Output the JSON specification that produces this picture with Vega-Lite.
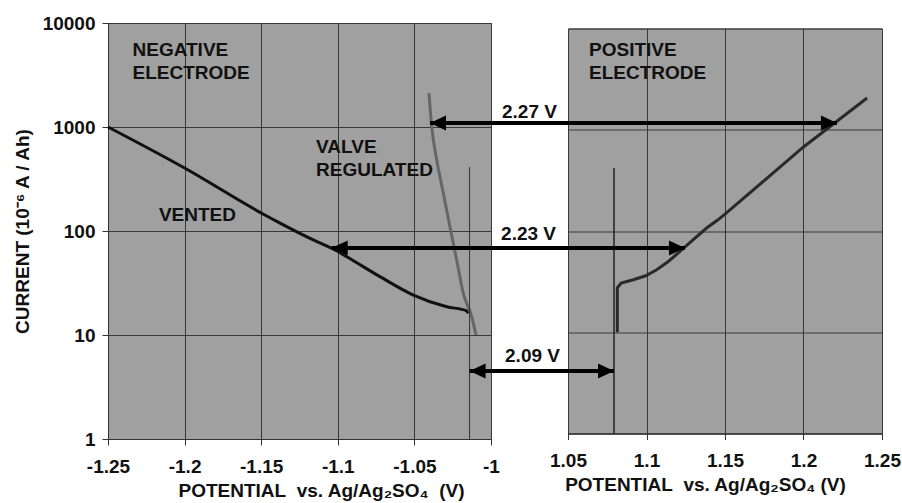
{
  "$schema": "https://vega.github.io/schema/vega-lite/v6.json",
  "background": "white",
  "padding": {"left": 12, "top": 13, "right": 0, "bottom": 0},
  "bounds": "flush",
  "center": true,
  "spacing": 77,
  "config": {
    "view": {"fill": "#a0a0a0", "stroke": "#444", "strokeWidth": 1},
    "axis": {
      "labelFont": "Liberation Sans", "labelFontSize": 19, "labelFontWeight": "bold", "labelColor": "#111",
      "titleFont": "Liberation Sans", "titleFontSize": 19, "titleFontWeight": "bold", "titleColor": "#111",
      "gridColor": "#383838", "gridOpacity": 1, "gridWidth": 1,
      "domainColor": "#333", "tickColor": "#333", "tickSize": 6
    },
    "text": {"font": "Liberation Sans", "fontSize": 19, "fontWeight": "bold", "color": "#111"}
  },
  "hconcat": [
    {
      "width": 383,
      "height": 416,
      "layer": [
        {
          "data": {"values": [
            {"x": -1.25, "y": 1000}, {"x": -1.2, "y": 403}, {"x": -1.15, "y": 149}, {"x": -1.1377, "y": 119},
            {"x": -1.116, "y": 82}, {"x": -1.104, "y": 68.2}, {"x": -1.0942, "y": 56.6}, {"x": -1.0725, "y": 36.4},
            {"x": -1.0507, "y": 24.2}, {"x": -1.0289, "y": 18.7}, {"x": -1.0159, "y": 17.1}, {"x": -1.0148, "y": 16.1}
          ]},
          "mark": {"type": "line", "color": "#111", "strokeWidth": 3, "interpolate": "monotone"},
          "encoding": {
            "x": {"field": "x", "type": "quantitative", "scale": {"domain": [-1.25, -1], "nice": false, "zero": false},
              "axis": {"values": [-1.25, -1.2, -1.15, -1.1, -1.05, -1], "labelExpr": "datum.value + ''",
                "title": "POTENTIAL\u00a0 vs. Ag/Ag₂SO₄\u00a0 (V)", "titleX": 213, "labelPadding": 12, "titlePadding": 5, "labelFlush": false}},
            "y": {"field": "y", "type": "quantitative", "scale": {"type": "log", "domain": [1, 10000], "nice": false},
              "axis": {"values": [1, 10, 100, 1000, 10000], "format": "d", "title": "CURRENT (10⁻⁶ A / Ah)",
                "labelPadding": 7, "titlePadding": 10, "labelFlush": false}}
          }
        },
        {
          "data": {"values": [
            {"x": -1.0405, "y": 2123}, {"x": -1.0387, "y": 1007}, {"x": -1.0354, "y": 482}, {"x": -1.0311, "y": 230},
            {"x": -1.0268, "y": 110}, {"x": -1.0224, "y": 52.6}, {"x": -1.0181, "y": 25.2}, {"x": -1.0126, "y": 15},
            {"x": -1.0098, "y": 10}
          ]},
          "mark": {"type": "line", "color": "#666", "strokeWidth": 3, "interpolate": "monotone"},
          "encoding": {
            "x": {"field": "x", "type": "quantitative", "scale": {"domain": [-1.25, -1], "nice": false, "zero": false}},
            "y": {"field": "y", "type": "quantitative", "scale": {"type": "log", "domain": [1, 10000], "nice": false}}
          }
        },
        {
          "data": {"values": [{"x": -1.014, "y": 412, "y2": 1}]},
          "mark": {"type": "rule", "color": "#333", "strokeWidth": 1},
          "encoding": {
            "x": {"field": "x", "type": "quantitative", "scale": {"domain": [-1.25, -1], "nice": false, "zero": false}},
            "y": {"field": "y", "type": "quantitative", "scale": {"type": "log", "domain": [1, 10000], "nice": false}},
            "y2": {"field": "y2"}
          }
        },
        {
          "data": {"values": [
            {"y": 1093, "x1": -1.0398, "x2": -0.948},
            {"y": 68.7, "x1": -1.104, "x2": -0.948},
            {"y": 4.51, "x1": -1.014, "x2": -0.948}
          ]},
          "mark": {"type": "rule", "color": "#000", "strokeWidth": 4},
          "encoding": {
            "x": {"field": "x1", "type": "quantitative", "scale": {"domain": [-1.25, -1], "nice": false, "zero": false}},
            "x2": {"field": "x2"},
            "y": {"field": "y", "type": "quantitative", "scale": {"type": "log", "domain": [1, 10000], "nice": false}}
          }
        },
        {
          "data": {"values": [
            {"x": -1.0398, "y": 1093}, {"x": -1.104, "y": 68.7}, {"x": -1.014, "y": 4.51}
          ]},
          "mark": {"type": "point", "shape": "M0,0L1,-0.47L1,0.47Z", "size": 1024, "filled": true, "color": "#000", "opacity": 1, "strokeWidth": 0},
          "encoding": {
            "x": {"field": "x", "type": "quantitative", "scale": {"domain": [-1.25, -1], "nice": false, "zero": false}},
            "y": {"field": "y", "type": "quantitative", "scale": {"type": "log", "domain": [1, 10000], "nice": false}}
          }
        },
        {
          "data": {"values": [
            {"x": -1.234, "y": 5500, "label": "NEGATIVE"},
            {"x": -1.234, "y": 3300, "label": "ELECTRODE"},
            {"x": -1.1142, "y": 646, "label": "VALVE"},
            {"x": -1.1142, "y": 386, "label": "REGULATED"}
          ]},
          "mark": {"type": "text", "align": "left", "baseline": "middle"},
          "encoding": {
            "x": {"field": "x", "type": "quantitative", "scale": {"domain": [-1.25, -1], "nice": false, "zero": false}},
            "y": {"field": "y", "type": "quantitative", "scale": {"type": "log", "domain": [1, 10000], "nice": false}},
            "text": {"field": "label"}
          }
        },
        {
          "data": {"values": [
            {"x": -1.1916, "y": 144, "label": "VENTED"},
            {"x": -0.9749, "y": 1403, "label": "2.27 V"},
            {"x": -0.9755, "y": 93.6, "label": "2.23 V"},
            {"x": -0.9729, "y": 6.3, "label": "2.09 V"}
          ]},
          "mark": {"type": "text", "align": "center", "baseline": "middle"},
          "encoding": {
            "x": {"field": "x", "type": "quantitative", "scale": {"domain": [-1.25, -1], "nice": false, "zero": false}},
            "y": {"field": "y", "type": "quantitative", "scale": {"type": "log", "domain": [1, 10000], "nice": false}},
            "text": {"field": "label"}
          }
        }
      ]
    },
    {
      "width": 314,
      "height": 405,
      "layer": [
        {
          "data": {"values": [
            {"x": 1.0814, "y": 10}, {"x": 1.0814, "y": 27.5}, {"x": 1.0839, "y": 30.6}, {"x": 1.0916, "y": 33},
            {"x": 1.0995, "y": 36.1}, {"x": 1.1065, "y": 41.4}, {"x": 1.1139, "y": 50}, {"x": 1.1213, "y": 62.8},
            {"x": 1.1298, "y": 82}, {"x": 1.1383, "y": 107}, {"x": 1.1455, "y": 129}, {"x": 1.15, "y": 147},
            {"x": 1.2, "y": 676}, {"x": 1.2405, "y": 2057}
          ]},
          "mark": {"type": "line", "color": "#2a2a2a", "strokeWidth": 3},
          "encoding": {
            "x": {"field": "x", "type": "quantitative", "scale": {"domain": [1.05, 1.25], "nice": false, "zero": false},
              "axis": {"values": [1.05, 1.1, 1.15, 1.2, 1.25], "labelExpr": "datum.value + ''",
                "title": "POTENTIAL\u00a0 vs. Ag/Ag₂SO₄ (V)", "titleX": 137, "labelPadding": 12, "titlePadding": 5, "labelFlush": false}},
            "y": {"field": "y", "type": "quantitative", "scale": {"type": "log", "domain": [1, 10000], "nice": false},
              "axis": {"values": [1, 10, 100, 1000, 10000], "labels": false, "ticks": false, "domain": false, "title": null}}
          }
        },
        {
          "data": {"values": [{"x": 1.0793, "y": 420, "y2": 1}]},
          "mark": {"type": "rule", "color": "#222", "strokeWidth": 1.5},
          "encoding": {
            "x": {"field": "x", "type": "quantitative", "scale": {"domain": [1.05, 1.25], "nice": false, "zero": false}},
            "y": {"field": "y", "type": "quantitative", "scale": {"type": "log", "domain": [1, 10000], "nice": false}},
            "y2": {"field": "y2"}
          }
        },
        {
          "data": {"values": [
            {"y": 1166, "x1": 1.047, "x2": 1.2213},
            {"y": 67.9, "x1": 1.047, "x2": 1.1245},
            {"y": 4.14, "x1": 1.047, "x2": 1.0793}
          ]},
          "mark": {"type": "rule", "color": "#000", "strokeWidth": 4},
          "encoding": {
            "x": {"field": "x1", "type": "quantitative", "scale": {"domain": [1.05, 1.25], "nice": false, "zero": false}},
            "x2": {"field": "x2"},
            "y": {"field": "y", "type": "quantitative", "scale": {"type": "log", "domain": [1, 10000], "nice": false}}
          }
        },
        {
          "data": {"values": [
            {"x": 1.2213, "y": 1166}, {"x": 1.1245, "y": 67.9}, {"x": 1.0793, "y": 4.14}
          ]},
          "mark": {"type": "point", "shape": "M0,0L-1,-0.47L-1,0.47Z", "size": 1024, "filled": true, "color": "#000", "opacity": 1, "strokeWidth": 0},
          "encoding": {
            "x": {"field": "x", "type": "quantitative", "scale": {"domain": [1.05, 1.25], "nice": false, "zero": false}},
            "y": {"field": "y", "type": "quantitative", "scale": {"type": "log", "domain": [1, 10000], "nice": false}}
          }
        },
        {
          "data": {"values": [
            {"x": 1.0634, "y": 6140, "label": "POSITIVE"},
            {"x": 1.0634, "y": 3675, "label": "ELECTRODE"}
          ]},
          "mark": {"type": "text", "align": "left", "baseline": "middle"},
          "encoding": {
            "x": {"field": "x", "type": "quantitative", "scale": {"domain": [1.05, 1.25], "nice": false, "zero": false}},
            "y": {"field": "y", "type": "quantitative", "scale": {"type": "log", "domain": [1, 10000], "nice": false}},
            "text": {"field": "label"}
          }
        }
      ]
    }
  ]
}
